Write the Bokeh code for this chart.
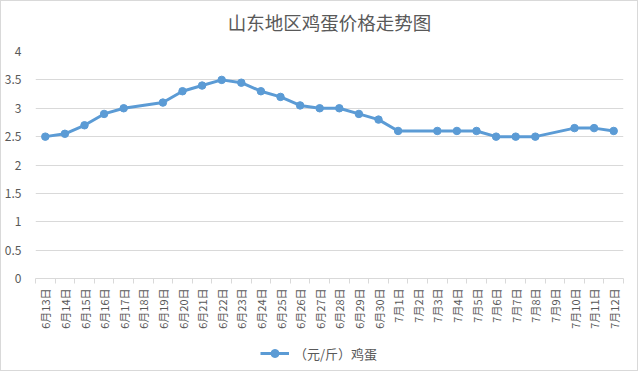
from bokeh.plotting import figure
from bokeh.layouts import column
from bokeh.models import FixedTicker, Range1d, Legend, LegendItem, ColumnDataSource
from bokeh.embed import file_html
from bokeh.resources import INLINE
import math

title_text = "山东地区鸡蛋价格走势图"
series_name = "（元/斤）鸡蛋"
dates = ["6月13日", "6月14日", "6月15日", "6月16日", "6月17日", "6月18日", "6月19日",
         "6月20日", "6月21日", "6月22日", "6月23日", "6月24日", "6月25日", "6月26日",
         "6月27日", "6月28日", "6月29日", "6月30日", "7月1日", "7月2日", "7月3日",
         "7月4日", "7月5日", "7月6日", "7月7日", "7月8日", "7月9日", "7月10日",
         "7月11日", "7月12日"]
prices = [2.5, 2.55, 2.7, 2.9, 3.0, None, 3.1, 3.3, 3.4, 3.5, 3.45, 3.3, 3.2, 3.05,
          3.0, 3.0, 2.9, 2.8, 2.6, None, 2.6, 2.6, 2.6, 2.5, 2.5, 2.5, None, 2.65,
          2.65, 2.6]
y_ticks = [0, 0.5, 1, 1.5, 2, 2.5, 3, 3.5, 4]

FONT = "Noto Sans CJK SC"
TXT = "#595959"
GRID = "#d9d9d9"
BLUE = "#5b9bd5"
W = 636


def blank_strip(height, **kw):
    f = figure(width=W, height=height, output_backend="svg", toolbar_location=None,
               x_axis_location=None, y_axis_location=None,
               x_range=Range1d(10, 11), y_range=Range1d(10, 11),
               min_border_left=0, min_border_right=0, min_border_bottom=0, **kw)
    f.outline_line_color = None
    f.xgrid.visible = False
    f.ygrid.visible = False
    return f


# title strip
tp = blank_strip(40, title=title_text, min_border_top=0)
tp.title.text_font = FONT
tp.title.text_font_size = "18.5px"
tp.title.text_font_style = "normal"
tp.title.text_color = TXT
tp.title.align = "center"
tp.title.standoff = 10

idx = list(range(len(dates)))
xs = [i for i, v in zip(idx, prices) if v is not None]
ys = [v for v in prices if v is not None]
src = ColumnDataSource(dict(x=xs, y=ys))

p = figure(width=W, height=295, output_backend="svg", toolbar_location=None,
           x_range=Range1d(-0.5, len(dates) - 0.5), y_range=Range1d(0, 4),
           min_border_left=32, min_border_right=14, min_border_top=10, min_border_bottom=58)
p.outline_line_color = None
p.background_fill_color = "white"
p.border_fill_color = "white"

p.line("x", "y", source=src, line_color=BLUE, line_width=3)
p.scatter("x", "y", source=src, size=7.5, fill_color=BLUE, line_color=BLUE)

xa = p.xaxis[0]
xa.ticker = FixedTicker(ticks=idx, minor_ticks=[i - 0.5 for i in range(len(dates) + 1)])
xa.major_label_overrides = {i: d for i, d in enumerate(dates)}
xa.major_label_orientation = math.pi / 2
xa.major_tick_out = 0
xa.major_tick_in = 0
xa.minor_tick_out = 5
xa.minor_tick_in = 0
xa.minor_tick_line_color = GRID
xa.axis_line_color = GRID
xa.major_label_text_font = FONT
xa.major_label_text_font_size = "11px"
xa.major_label_text_color = TXT
xa.major_label_standoff = 5

ya = p.yaxis[0]
ya.ticker = FixedTicker(ticks=y_ticks)
ya.axis_line_color = None
ya.major_tick_line_color = None
ya.minor_tick_line_color = None
ya.major_label_text_font = FONT
ya.major_label_text_font_size = "12px"
ya.major_label_text_color = TXT
ya.major_label_standoff = 8

p.xgrid.grid_line_color = None
p.ygrid.grid_line_color = GRID
p.ygrid.ticker = FixedTicker(ticks=y_ticks)

# legend strip below the chart (sample glyphs sit outside its visible range)
lp = blank_strip(34, min_border_top=0)
sample = ColumnDataSource(dict(x=[0], y=[0]))
lr1 = lp.line("x", "y", source=sample, line_color=BLUE, line_width=3)
lr2 = lp.scatter("x", "y", source=sample, size=7.5, fill_color=BLUE, line_color=BLUE)
legend = Legend(items=[LegendItem(label=series_name, renderers=[lr1, lr2])],
                location=(225, 7), orientation="horizontal",
                label_text_font=FONT, label_text_font_size="13px", label_text_color=TXT,
                border_line_color=None, background_fill_alpha=0,
                glyph_width=29, margin=0, padding=0, label_standoff=5)
lp.add_layout(legend, "center")

layout = column(tp, p, lp, spacing=0)
layout.styles = {"border": "1px solid #d9d9d9"}
open("out.html", "w").write(file_html(layout, INLINE))
